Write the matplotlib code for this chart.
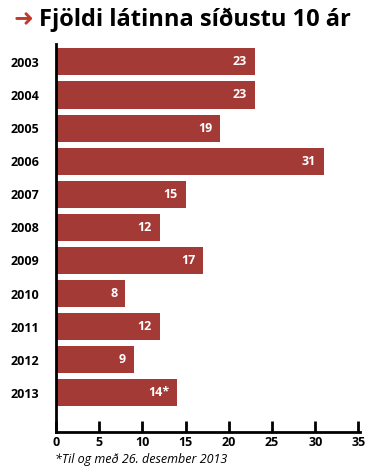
import matplotlib
matplotlib.use("Agg")
from matplotlib import pyplot as plt

years = ['2003', '2004', '2005', '2006', '2007', '2008', '2009', '2010', '2011', '2012', '2013']
deaths = [23, 23, 19, 31, 15, 12, 17, 8, 12, 9, 14]
labels = ['23', '23', '19', '31', '15', '12', '17', '8', '12', '9', '14*']
xticks = [0, 5, 10, 15, 20, 25, 30, 35]

plt.rcParams['font.family'] = ['Open Sans', 'DejaVu Sans']
bar_color = '#a33a36'

fig = plt.figure(figsize=(3.9, 4.68), dpi=100)
ax = fig.add_axes([0.1436, 0.077, 0.78, 0.829])

pos = list(range(len(years)))
ax.barh(pos, deaths, height=0.82, color=bar_color, zorder=2)
for p, v, lab in zip(pos, deaths, labels):
    ax.text(v - 0.9, p, lab, color='white', fontsize=9, fontweight='bold',
            ha='right', va='center')

ax.set_ylim(len(years) - 1 + 1.18, -0.54)
ax.set_xlim(0, 35.2)
ax.set_yticks(pos)
ax.set_yticklabels(years, fontsize=9, fontweight='bold')
ax.set_xticks(xticks)
ax.set_xticklabels([str(t) for t in xticks], fontsize=9, fontweight='bold')
ax.tick_params(axis='y', length=0, pad=12)
ax.tick_params(axis='x', direction='in', length=8, width=2, pad=3)
for s in ['top', 'right']:
    ax.spines[s].set_visible(False)
ax.spines['left'].set_linewidth(2)
ax.spines['bottom'].set_linewidth(2)

fig.text(0.035, 0.958, '➜', color='#c0392b', fontsize=17, fontweight='bold',
         family=['DejaVu Sans'], va='center', ha='left')
fig.text(0.1, 0.958, 'Fjöldi látinna síðustu 10 ár', fontsize=17, fontweight='bold',
         va='center', ha='left')
fig.text(0.14, 0.018, '*Til og með 26. desember 2013', fontsize=9, style='italic',
         va='center', ha='left')

fig.savefig('out.png', dpi=100)
